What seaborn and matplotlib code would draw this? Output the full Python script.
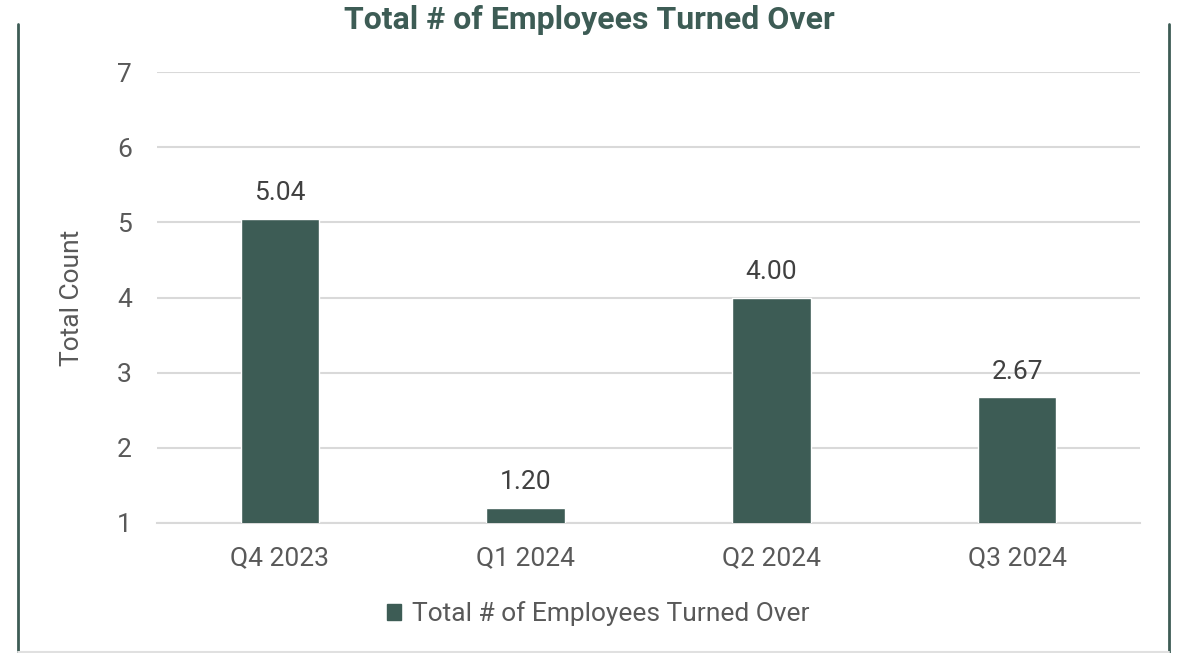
import matplotlib
matplotlib.use("Agg")
import matplotlib.pyplot as plt
import seaborn as sns
import pandas as pd
from matplotlib.lines import Line2D
from matplotlib.patches import Patch

quarters = ["Q4 2023", "Q1 2024", "Q2 2024", "Q3 2024"]
values = [5.04, 1.20, 4.00, 2.67]
series_name = "Total # of Employees Turned Over"
yticks = [1, 2, 3, 4, 5, 6, 7]

sns.set_theme(style="white")
plt.rcParams['font.family'] = ['Roboto', 'DejaVu Sans']

BAR = "#3D5C55"
TXT = "#595959"
FS = 19

df = pd.DataFrame({"Quarter": quarters, "Value": values})

fig = plt.figure(figsize=(11.78, 6.53), dpi=100)
ax = fig.add_axes([157/1178, 1-523/653, (1140-157)/1178, (523-72)/653])

sns.barplot(data=df, x="Quarter", y="Value", color=BAR, width=0.32,
            saturation=1, ax=ax, zorder=3)

ax.set_ylim(1, 7)
ax.set_yticks(yticks)
ax.set_xlim(-0.5, len(quarters) - 0.5)
ax.yaxis.grid(True, color="#D9D9D9", linewidth=1.5, zorder=0)
ax.xaxis.grid(False)
for s in ["top", "right", "left"]:
    ax.spines[s].set_visible(False)
ax.spines["bottom"].set_color("#D9D9D9")
ax.spines["bottom"].set_linewidth(1.5)
ax.tick_params(axis="both", length=0, labelsize=FS, labelcolor=TXT)
ax.tick_params(axis="y", pad=18)
ax.tick_params(axis="x", pad=17)
ax.set_xlabel("")
ax.set_ylabel("Total Count", fontsize=FS, color=TXT)
ax.yaxis.set_label_coords((84-157)/983, 0.5)

for c in ax.containers:
    ax.bar_label(c, labels=[f"{v:.2f}" for v in values], padding=10,
                 fontsize=FS, color="#404040")

fig.text(0.5, 1-20/653, series_name, ha="center", va="center",
         fontsize=23, fontweight="bold", color=BAR)

handle = Patch(facecolor=BAR, edgecolor=BAR)
fig.legend([handle], [series_name], loc="center", bbox_to_anchor=(598/1178, 1-614/653),
           frameon=False, fontsize=FS, labelcolor=TXT, handlelength=0.55,
           handleheight=0.55, handletextpad=0.4)

fig.add_artist(Line2D([18/1178, 18/1178], [0, 1-24/653], color=BAR, linewidth=2,
                      transform=fig.transFigure))
fig.add_artist(Line2D([1169/1178, 1169/1178], [0, 1-24/653], color=BAR, linewidth=2,
                      transform=fig.transFigure))
fig.add_artist(Line2D([18/1178, 1169/1178], [1/653, 1/653], color="#E0E0E0", linewidth=1.5,
                      transform=fig.transFigure))

fig.savefig("out.png", dpi=100)
